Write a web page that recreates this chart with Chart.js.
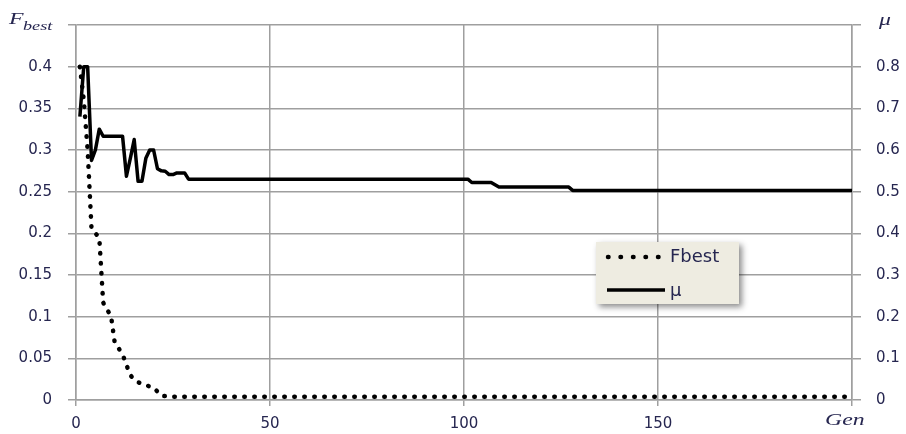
<!DOCTYPE html>
<html>
<head>
<meta charset="utf-8">
<script src="https://cdn.jsdelivr.net/npm/chart.js@4.4.1/dist/chart.umd.min.js"></script>
<style>
  html, body { margin: 0; padding: 0; background: #fff; }
  #wrap { width: 906px; height: 434px; }
</style>
</head>
<body>
<div id="wrap"><canvas id="chart" width="906" height="434"></canvas></div>
<script>
// Fbest (left axis) - generation / value
const fbestGen = [1, 2, 3, 4, 5, 6, 7, 8, 9, 10, 11, 12, 13, 14, 15, 17, 20, 21, 22, 25, 200];
const fbestVal = [0.4, 0.36, 0.3, 0.205, 0.2, 0.195, 0.117, 0.108, 0.102, 0.068, 0.062, 0.055, 0.042, 0.03, 0.024, 0.019, 0.015, 0.01, 0.005, 0.004, 0.004];

// mu (right axis)
const muGen = [1, 2, 3, 4, 5, 6, 7, 12, 13, 14, 15, 16, 17, 18, 19, 20, 21, 22, 23, 24, 25, 26, 28, 29, 101, 102, 107, 109, 127, 128, 200];
const muVal = [0.68, 0.8, 0.8, 0.575, 0.6, 0.65, 0.633, 0.633, 0.537, 0.58, 0.625, 0.525, 0.525, 0.58, 0.6, 0.6, 0.555, 0.55, 0.549, 0.541, 0.541, 0.545, 0.545, 0.53, 0.53, 0.522, 0.522, 0.511, 0.511, 0.503, 0.503];

const xTicks = [0, 50, 100, 150];
const legendLabels = ['Fbest', 'μ'];

const GRID = '#9f9f9f';
const TEXT = '#262650';
const TICK_FONT = { family: 'DejaVu Sans', size: 15 };

function toPoints(xs, ys) {
  return xs.map((x, i) => ({ x: x, y: ys[i] }));
}

// titles + legend drawn on top
const extras = {
  id: 'extras',
  afterDraw(chart) {
    const ctx = chart.ctx;
    ctx.save();
    ctx.fillStyle = TEXT;
    ctx.textBaseline = 'alphabetic';

    function stretched(text, x, y, font) {
      ctx.save();
      ctx.font = font;
      ctx.translate(x, y);
      ctx.scale(1.4, 1);
      ctx.fillText(text, 0, 0);
      ctx.restore();
    }
    stretched('F', 9, 24, 'italic 17px "Liberation Serif"');
    stretched('best', 23, 30, 'italic 13px "Liberation Serif"');
    stretched('μ', 879, 25, 'italic 17px "Liberation Serif"');
    stretched('Gen', 825, 425, 'italic 17px "Liberation Serif"');

    // legend box
    const bx = 596, by = 242, bw = 143, bh = 62;
    ctx.save();
    ctx.shadowColor = 'rgba(0,0,0,0.45)';
    ctx.shadowBlur = 6;
    ctx.shadowOffsetX = 3;
    ctx.shadowOffsetY = 3;
    ctx.fillStyle = '#eeece1';
    ctx.fillRect(bx, by, bw, bh);
    ctx.restore();

    ctx.strokeStyle = '#000';
    ctx.lineCap = 'round';
    ctx.lineWidth = 4.5;
    ctx.setLineDash([0.5, 12]);
    ctx.beginPath();
    ctx.moveTo(608, 257);
    ctx.lineTo(662, 257);
    ctx.stroke();

    ctx.setLineDash([]);
    ctx.lineCap = 'butt';
    ctx.lineWidth = 3.5;
    ctx.beginPath();
    ctx.moveTo(607, 290);
    ctx.lineTo(665, 290);
    ctx.stroke();

    ctx.fillStyle = TEXT;
    ctx.font = '18px "DejaVu Sans"';
    ctx.textBaseline = 'middle';
    ctx.fillText(legendLabels[0], 670, 257);
    ctx.fillText(legendLabels[1], 670, 291);
    ctx.restore();
  }
};

new Chart(document.getElementById('chart').getContext('2d'), {
  type: 'line',
  data: {
    datasets: [
      {
        label: 'μ',
        data: toPoints(muGen, muVal),
        yAxisID: 'y1',
        borderColor: '#000',
        borderWidth: 3.5,
        borderJoinStyle: 'round',
        pointRadius: 0,
        tension: 0
      },
      {
        label: 'Fbest',
        data: toPoints(fbestGen, fbestVal),
        yAxisID: 'y',
        borderColor: '#000',
        borderWidth: 4.5,
        borderDash: [0.5, 9.5],
        borderCapStyle: 'round',
        pointRadius: 0,
        tension: 0
      }
    ]
  },
  options: {
    responsive: false,
    animation: false,
    layout: { padding: { top: 24, left: 0, right: 0, bottom: 0 } },
    plugins: {
      legend: { display: false },
      tooltip: { enabled: false }
    },
    scales: {
      x: {
        type: 'linear',
        min: 0,
        max: 200,
        afterFit: s => { s.height = 34; },
        afterBuildTicks: s => { s.ticks = xTicks.concat([200]).map(v => ({ value: v })); },
        ticks: {
          color: TEXT,
          font: TICK_FONT,
          padding: 9,
          maxRotation: 0,
          callback: v => (v === 200 ? '' : v)
        },
        grid: { color: GRID, lineWidth: 1.5, tickLength: 6 },
        border: { color: GRID, width: 1.5 }
      },
      y: {
        position: 'left',
        min: 0,
        max: 0.45,
        afterFit: s => { s.width = 76; },
        ticks: {
          stepSize: 0.05,
          color: TEXT,
          font: TICK_FONT,
          padding: 16,
          callback: v => (Math.abs(v - 0.45) < 1e-9 ? '' : String(+v.toFixed(2)))
        },
        grid: { color: GRID, lineWidth: 1.5, tickLength: 8 },
        border: { color: GRID, width: 1.5 }
      },
      y1: {
        position: 'right',
        min: 0,
        max: 0.9,
        afterFit: s => { s.width = 54; },
        ticks: {
          stepSize: 0.1,
          color: TEXT,
          font: TICK_FONT,
          padding: 15,
          callback: v => (Math.abs(v - 0.9) < 1e-9 ? '' : String(+v.toFixed(1)))
        },
        grid: { drawOnChartArea: false, color: GRID, lineWidth: 1.5, tickLength: 9 },
        border: { color: GRID, width: 1.5 }
      }
    }
  },
  plugins: [extras]
});
</script>
</body>
</html>
